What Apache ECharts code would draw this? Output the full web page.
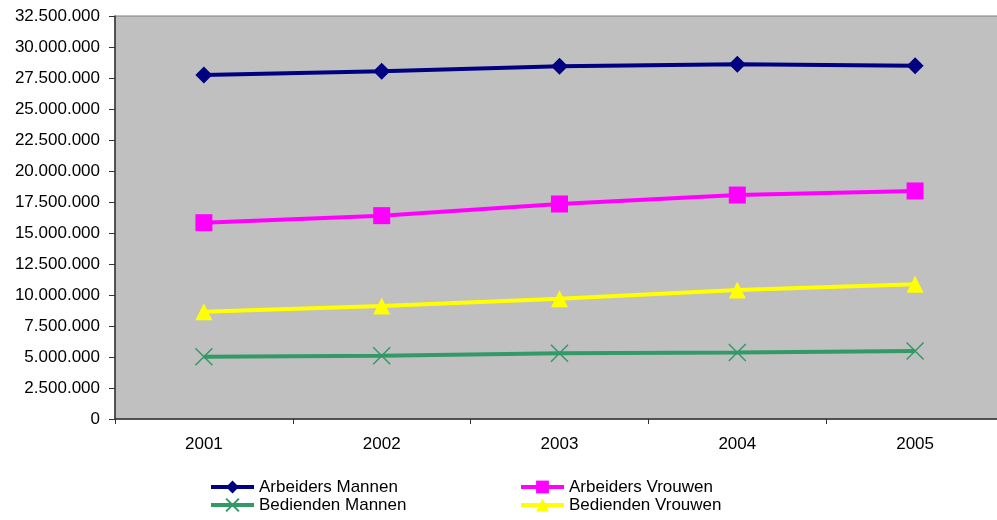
<!DOCTYPE html>
<html>
<head>
<meta charset="utf-8">
<script src="https://cdn.jsdelivr.net/npm/echarts@6/dist/echarts.min.js"></script>
<style>html,body{margin:0;padding:0;background:#fff}#c{width:997px;height:520px}</style>
</head>
<body>
<div id="c"></div>
<script>
const years = ['2001', '2002', '2003', '2004', '2005'];
const arbeidersMannen = [27740000, 28040000, 28440000, 28600000, 28490000];
const arbeidersVrouwen = [15830000, 16400000, 17340000, 18060000, 18390000];
const bediendenMannen = [5020000, 5100000, 5300000, 5370000, 5480000];
const bediendenVrouwen = [8650000, 9110000, 9700000, 10400000, 10860000];

const FONT = '"Liberation Sans", Arial, sans-serif';
const fmt = v => String(v).replace(/\B(?=(\d{3})+(?!\d))/g, '.');
const chart = echarts.init(document.getElementById('c'));
const mk = (name, data, color, symbol, size, extra) => Object.assign({
  name, type: 'line', data, symbol, symbolSize: size,
  lineStyle: { color, width: 4 },
  itemStyle: { color },
  emphasis: { disabled: true }
}, extra || {});
const legendCommon = {
  orient: 'vertical', top: 478, itemWidth: 43, itemHeight: 16, itemGap: 0, padding: 0,
  lineStyle: { width: 4 },
  textStyle: { fontSize: 17, lineHeight: 18, color: '#000', fontFamily: FONT }
};
chart.setOption({
  animation: false,
  grid: { left: 115, top: 16, width: 889, height: 403, outerBoundsMode: 'none', containLabel: false,
    show: true, backgroundColor: '#C0C0C0', borderColor: '#808080', borderWidth: 1 },
  xAxis: {
    type: 'category', data: years, boundaryGap: true,
    axisLine: { show: true, lineStyle: { color: '#333', width: 1.5 } },
    axisTick: { show: true, length: 5, alignWithLabel: false, lineStyle: { color: '#333' } },
    axisLabel: { margin: 17, fontSize: 17, color: '#000', fontFamily: FONT },
    splitLine: { show: false }
  },
  yAxis: {
    type: 'value', min: 0, max: 32500000, interval: 2500000,
    axisLine: { show: true, lineStyle: { color: '#333', width: 1.5 } },
    axisTick: { show: true, length: 6, lineStyle: { color: '#333' } },
    axisLabel: { margin: 15, fontSize: 17, color: '#000', fontFamily: FONT, formatter: fmt },
    splitLine: { show: false }
  },
  legend: [
    Object.assign({ data: ['Arbeiders Mannen', 'Bedienden Mannen'], left: 209 }, legendCommon),
    Object.assign({ data: ['Arbeiders Vrouwen', 'Bedienden Vrouwen'], left: 519 }, legendCommon)
  ],
  series: [
    mk('Arbeiders Mannen', arbeidersMannen, '#000080', 'diamond', 17),
    mk('Arbeiders Vrouwen', arbeidersVrouwen, '#FF00FF', 'rect', 17),
    mk('Bedienden Mannen', bediendenMannen, '#339966', 'path://M0,0L10,10M10,0L0,10', 17,
      { itemStyle: { color: '#339966', borderColor: '#339966', borderWidth: 1.5 } }),
    mk('Bedienden Vrouwen', bediendenVrouwen, '#FFFF00', 'triangle', 17)
  ]
});
</script>
</body>
</html>
